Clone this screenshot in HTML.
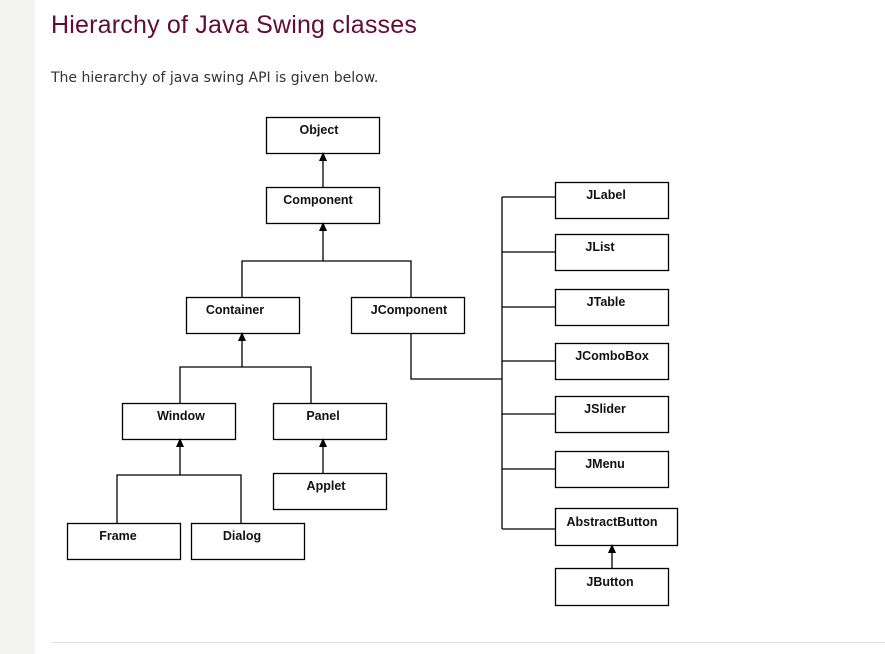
<!DOCTYPE html>
<html><head><style>
body{margin:0;width:885px;height:654px;background:#fff;position:relative;overflow:hidden;font-family:"Liberation Sans",sans-serif}
.strip{position:absolute;left:0;top:0;width:35px;height:654px;background:#f3f3f1}
h1{position:absolute;left:51px;top:11px;margin:0;font-weight:normal;font-size:25px;color:#610b38;letter-spacing:0.2px}
p{position:absolute;left:51px;top:70px;margin:0;font-family:"DejaVu Sans",sans-serif;font-size:14px;color:#333}
.hr{position:absolute;left:52px;top:642px;width:833px;height:1px;background:#ddd}
svg{position:absolute;left:0;top:0}
svg text{font-family:"Liberation Sans",sans-serif;font-weight:bold;font-size:12.5px;fill:#111;text-anchor:middle}
</style></head><body>
<div class="strip"></div>
<h1>Hierarchy of Java Swing classes</h1>
<p>The hierarchy of java swing API is given below.</p>
<svg width="885" height="654">
<g fill="none" stroke="#000" stroke-width="1.3">
<rect x="266.5" y="117.5" width="113" height="36"/>
<rect x="266.5" y="187.5" width="113" height="36"/>
<rect x="186.5" y="297.5" width="113" height="36"/>
<rect x="351.5" y="297.5" width="113" height="36"/>
<rect x="122.5" y="403.5" width="113" height="36"/>
<rect x="273.5" y="403.5" width="113" height="36"/>
<rect x="273.5" y="473.5" width="113" height="36"/>
<rect x="67.5" y="523.5" width="113" height="36"/>
<rect x="191.5" y="523.5" width="113" height="36"/>
<rect x="555.5" y="182.5" width="113" height="36"/>
<rect x="555.5" y="234.5" width="113" height="36"/>
<rect x="555.5" y="289.5" width="113" height="36"/>
<rect x="555.5" y="343.5" width="113" height="36"/>
<rect x="555.5" y="396.5" width="113" height="36"/>
<rect x="555.5" y="451.5" width="113" height="36"/>
<rect x="555.5" y="508.5" width="122" height="37"/>
<rect x="555.5" y="568.5" width="113" height="37"/>
<path d="M323 187V158 M323 261V228 M242 297V261H411V297 M242 367V338 M180 403V367H311V403 M180 475V444 M117 523V475H241V523 M323 473V444 M411 333V379H502 M502 197V529 M502 197H555 M502 252H555 M502 307H555 M502 361H555 M502 414H555 M502 469H555 M502 529H555 M612 568V550"/>
</g>
<g fill="#000">
<path d="M319 161L323 152L327 161Z"/><path d="M319 231L323 222L327 231Z"/><path d="M238 341L242 332L246 341Z"/>
<path d="M176 447L180 438L184 447Z"/><path d="M319 447L323 438L327 447Z"/><path d="M608 553L612 544L616 553Z"/>
</g>
<text x="319" y="134">Object</text>
<text x="318" y="204">Component</text>
<text x="235" y="314">Container</text>
<text x="409" y="314">JComponent</text>
<text x="181" y="420">Window</text>
<text x="323" y="420">Panel</text>
<text x="326" y="490">Applet</text>
<text x="118" y="540">Frame</text>
<text x="242" y="540">Dialog</text>
<text x="606" y="199">JLabel</text>
<text x="600" y="251">JList</text>
<text x="606" y="306">JTable</text>
<text x="612" y="360">JComboBox</text>
<text x="605" y="413">JSlider</text>
<text x="605" y="468">JMenu</text>
<text x="612" y="526">AbstractButton</text>
<text x="610" y="586">JButton</text>
</svg>
<div class="hr"></div>
</body></html>
